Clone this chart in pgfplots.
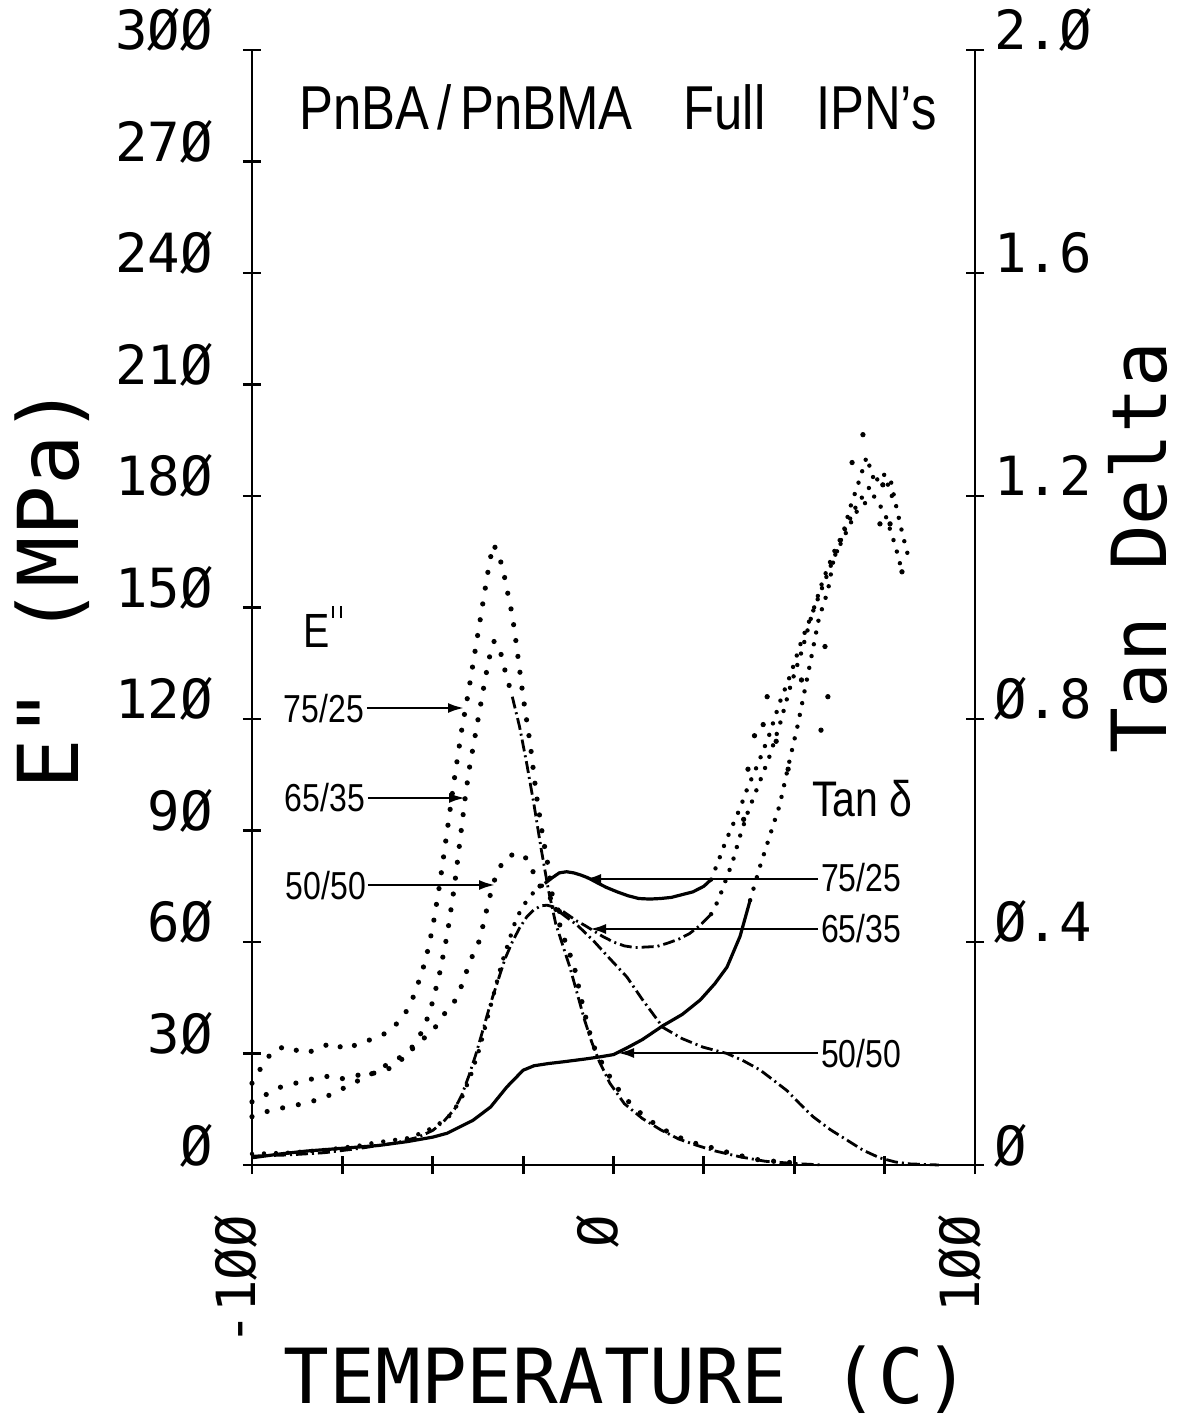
\documentclass[border=0pt]{standalone}
\usepackage{fontspec}
\setmainfont{Liberation Sans}
\newfontfamily\plotter{DejaVu Sans Mono}
\usepackage{graphicx}
\usepackage{pgfplots}
\pgfplotsset{compat=1.18}
\usetikzlibrary{arrows.meta}
\newcommand{\cond}[2]{\fontsize{#1}{#1}\selectfont\scalebox{0.82}[1]{#2}}
\newcommand{\tickfont}{\plotter\fontsize{27}{27}\selectfont}
\begin{document}
\begin{tikzpicture}
\pgfplotsset{
  base/.style={scale only axis, width=361.5pt, height=557.5pt, at={(0,0)}, anchor=south west,
    xmin=-100, xmax=100, clip=false, tick align=center, major tick length=9pt,
    axis line style={line width=1.4pt}, tick style={line width=1.4pt, black},
    xtick={-100,-75,-50,-25,0,25,50,75,100}, xticklabels={}},
  edot/.style={black, line width=2.6pt, dash pattern=on 0pt off 8pt, line cap=round, no marks},
  tdot/.style={black, line width=2.2pt, dash pattern=on 0pt off 6pt, line cap=round, no marks},
  dashdot/.style={black, line width=1.4pt, dash pattern=on 6pt off 2pt on 1pt off 2pt, no marks},
  solidc/.style={black, line width=1.6pt, no marks}
}
% ---------------- left axis: E'' (MPa)
\begin{axis}[base, ymin=0, ymax=300,
  axis x line*=bottom, axis y line*=left,
  ytick={0,30,60,90,120,150,180,210,240,270,300},
  yticklabels={Ø,3Ø,6Ø,9Ø,12Ø,15Ø,18Ø,21Ø,24Ø,27Ø,3ØØ},
  yticklabel style={font=\tickfont, anchor=base east, inner sep=0pt, xshift=-15pt}]
% E'' 75/25
\addplot[edot] coordinates {(-100,22) (-97,27) (-94,31) (-90,32) (-86,30) (-82,31) (-78,33) (-74,31) (-70,33) (-66,34) (-62,36) (-58,40) (-55,46) (-52,55) (-50,64) (-48,76) (-46,90) (-44,104) (-42,117) (-40,128) (-38,140) (-36,152) (-34.5,161) (-33.3,167) (-32,165) (-30.5,160) (-29.5,155) (-28,148) (-27,141) (-25,126) (-23,113) (-21.4,100) (-19.5,88) (-18,80) (-17,73) (-15,65) (-13,59) (-11,54) (-9,45) (-7,37) (-5.5,32) (-3.5,28) (0,22) (3.7,17.5) (8,13.5) (12.9,10) (18,7.5) (22,6) (26.7,4.8) (33,3) (40.5,1.3) (50,0.6)};
% E'' 65/35
\addplot[edot] coordinates {(-100,17) (-96,19) (-92,21) (-88,22) (-84,23) (-80,24) (-76,23) (-72,24) (-68,24.5) (-64,25) (-60,27) (-57,30) (-54,34) (-52,38) (-50,44) (-48,52) (-46,62) (-44,75) (-42,91) (-41,99) (-40,106) (-38,117) (-36,128) (-34.5,136) (-33,141) (-31.5,139) (-30,133) (-28,126)};
\addplot[dashdot] coordinates {(-28,126) (-26,118) (-24,108) (-22,97) (-20,85) (-18,74) (-16,65) (-14,59) (-12,53) (-10,46) (-8,39) (-6,33) (-4,28) (-1,22) (3,16.5) (8,12.5) (13,9.5) (18,7) (23,5.3) (28,3.8) (35,2.2) (42,1.0) (50,0.4) (58,0)};
% E'' 50/50
\addplot[edot] coordinates {(-100,13) (-97,14) (-94,15) (-90,15.6) (-86,16.5) (-82,17.5) (-78,19) (-74,21) (-70,23) (-66,25) (-62,27.4) (-58,29.5) (-55,31.7) (-52,34.5) (-50,36) (-48,39) (-46,41.7) (-44,44) (-42.5,47) (-41,51) (-39.7,55) (-38,58) (-36.9,61) (-35.5,67) (-34,73) (-32.2,79) (-29.5,83) (-26,84) (-23.5,82) (-22.3,79) (-20.3,75) (-17.6,72) (-14.8,68)};
\addplot[dashdot] coordinates {(-14.8,68) (-10,64.5) (-5.7,60.5) (-1,55.5) (3.7,50.6) (8,44.5) (13.7,37) (19,34) (24.8,31.7) (31.4,30) (36,28) (40.5,25.6) (44,23) (48,20) (51.5,16.5) (55.2,13) (60,9.5) (64.6,6.7) (69,4) (73.7,1.9) (78,0.8) (82,0.3) (90,0)};
\end{axis}
% ---------------- right axis: Tan Delta
\begin{axis}[base, ymin=0, ymax=2,
  axis x line=none, axis y line*=right,
  ytick={0,0.4,0.8,1.2,1.6,2.0},
  yticklabels={Ø,Ø.4,Ø.8,1.2,1.6,2.Ø},
  yticklabel style={font=\tickfont, anchor=base west, inner sep=0pt, xshift=5pt}]
% tan delta 50/50
\addplot[solidc] coordinates {(-100,0.013) (-92,0.02) (-85,0.025) (-75,0.03) (-65,0.035) (-57,0.042) (-50,0.05) (-46,0.057) (-42,0.07) (-38.9,0.08) (-34,0.104) (-29.5,0.14) (-25,0.17) (-22,0.178) (-18,0.182) (-14,0.185) (-8,0.19) (-3.7,0.194) (0,0.198) (3.7,0.21) (8,0.225) (13.7,0.25) (19,0.27) (24,0.296) (28,0.325) (31.4,0.355) (35,0.41) (37.8,0.475)};
\addplot[tdot] coordinates {(37.8,0.475) (40.5,0.535) (44,0.606) (46,0.646) (48.3,0.714) (51,0.79) (54.4,0.9) (56.8,0.98) (59.3,1.03) (60.7,1.08) (63.2,1.126) (65.5,1.18) (68.2,1.232) (70,1.27) (71.8,1.234) (74,1.24) (76.5,1.234) (77.9,1.19) (80,1.13) (82,1.08)};
% tan delta 75/25
\addplot[tdot] coordinates {(-100,0.02) (-90,0.022) (-80,0.027) (-70,0.035) (-66,0.04) (-57,0.048) (-52,0.06) (-48,0.075) (-45,0.09) (-42,0.12) (-39.5,0.16) (-37,0.21) (-35,0.26) (-33,0.31) (-31,0.36) (-29,0.40) (-27,0.44) (-25,0.465) (-22,0.49) (-19,0.505)};
\addplot[solidc] coordinates {(-19,0.505) (-17,0.515) (-15,0.524) (-13,0.526) (-11,0.524) (-9,0.52) (-7,0.515) (-5,0.508) (-2,0.498) (1,0.49) (4,0.483) (7,0.478) (10,0.477) (13,0.478) (16,0.48) (19,0.485) (22,0.49) (25,0.5) (27,0.512)};
\addplot[tdot] coordinates {(27,0.512) (29,0.545) (31,0.58) (33,0.61) (35,0.64) (37,0.675) (40,0.72) (43,0.77) (46,0.83) (49,0.88) (52,0.94) (55,0.99) (58,1.04) (61,1.09) (64,1.13) (67,1.17) (70,1.19) (72,1.2) (75,1.17) (78,1.11) (80,1.06)};
% tan delta 65/35
\addplot[dashdot] coordinates {(-100,0.016) (-90,0.018) (-80,0.022) (-70,0.03) (-60,0.04) (-54,0.05) (-50,0.062) (-47,0.078) (-44,0.1) (-42,0.125) (-40,0.16) (-38,0.2) (-36,0.245) (-34,0.29) (-32,0.33) (-30,0.37) (-28,0.40) (-26,0.425) (-24,0.445) (-22,0.458) (-20,0.465) (-18.4,0.466) (-16,0.462) (-14,0.455) (-12,0.446) (-10,0.437) (-8,0.43) (-5.5,0.42) (-3,0.41) (0,0.4) (3,0.393) (6,0.39) (9,0.391) (12,0.392) (15,0.398) (18,0.405) (21,0.415) (24,0.43) (27,0.45)};
\addplot[tdot] coordinates {(27,0.45) (29,0.475) (31,0.51) (33,0.545) (35,0.59) (37,0.63) (40,0.68) (43,0.73) (46,0.79) (49,0.86) (52,0.92) (55,0.99) (58,1.05) (61,1.1) (64,1.14) (67,1.18) (70,1.21) (73,1.23) (76,1.22) (78,1.18)};
% scattered points of the noisy high-temperature tan delta traces
\addplot[only marks, mark=*, mark size=1.1pt, black] coordinates {(42.5,0.84) (41.4,0.79) (37.2,0.71) (48.3,0.71) (57.4,0.78) (59.3,0.84) (58.5,0.93) (76.5,1.15) (79.8,1.064) (73.7,1.15) (39,0.77) (45,0.76) (36,0.62) (52,0.87) (66,1.26) (69,1.31) (74.5,1.22)};
\end{axis}
% ---------------- texts
\node[anchor=base, inner sep=0pt] at (183pt,517.5pt) {\cond{31}{PnBA\,/\,PnBMA\quad Full\quad IPN’s}};
\node[anchor=base west, inner sep=0pt] at (25.5pt,258.5pt) {\cond{24}{E\hspace{1.5pt}\rule[15pt]{1.3pt}{6pt}\hspace{3.5pt}\rule[15pt]{1.3pt}{6pt}}};
\node[anchor=base west, inner sep=0pt] at (280pt,174pt) {\cond{25}{Tan δ}};
\begin{scope}[line width=1.2pt, -{Latex[length=8pt,width=5pt]}]
\node[anchor=base east, inner sep=0pt] at (56.5pt,221pt) {\cond{19.5}{75/25}};
\draw (57.5pt,228.5pt) -- (106pt,228.5pt);
\node[anchor=base east, inner sep=0pt] at (57pt,176.5pt) {\cond{19.5}{65/35}};
\draw (58pt,183.5pt) -- (106.5pt,183.5pt);
\node[anchor=base east, inner sep=0pt] at (57.5pt,132.5pt) {\cond{19.5}{50/50}};
\draw (58pt,140pt) -- (121.5pt,140pt);
\node[anchor=base west, inner sep=0pt] at (284pt,136.5pt) {\cond{19.5}{75/25}};
\draw (283pt,143pt) -- (166.5pt,143pt);
\node[anchor=base west, inner sep=0pt] at (284pt,111pt) {\cond{19.5}{65/35}};
\draw (283pt,118pt) -- (169pt,118pt);
\node[anchor=base west, inner sep=0pt] at (284pt,49pt) {\cond{19.5}{50/50}};
\draw (283pt,56pt) -- (183pt,56pt);
\end{scope}
% x tick labels
\node[rotate=90, anchor=base east, inner sep=0pt, font=\tickfont] at (2pt,-25pt) {-1ØØ};
\node[rotate=90, anchor=base east, inner sep=0pt, font=\tickfont] at (182.5pt,-25pt) {Ø};
\node[rotate=90, anchor=base east, inner sep=0pt, font=\tickfont] at (363.5pt,-25pt) {1ØØ};
% axis titles
\node[rotate=90, inner sep=0pt] at (-100pt,289pt) {\plotter\fontsize{42}{42}\selectfont E\char34{} (MPa)};
\node[rotate=90, inner sep=0pt] at (443pt,308.5pt) {\plotter\fontsize{38}{38}\selectfont Tan Delta};
\node[inner sep=0pt] at (187.5pt,-107.5pt) {\plotter\fontsize{38}{38}\selectfont TEMPERATURE (C)};
\pgfresetboundingbox
\useasboundingbox (-126pt,-127.5pt) rectangle (471pt,582.5pt);
\end{tikzpicture}
\end{document}
